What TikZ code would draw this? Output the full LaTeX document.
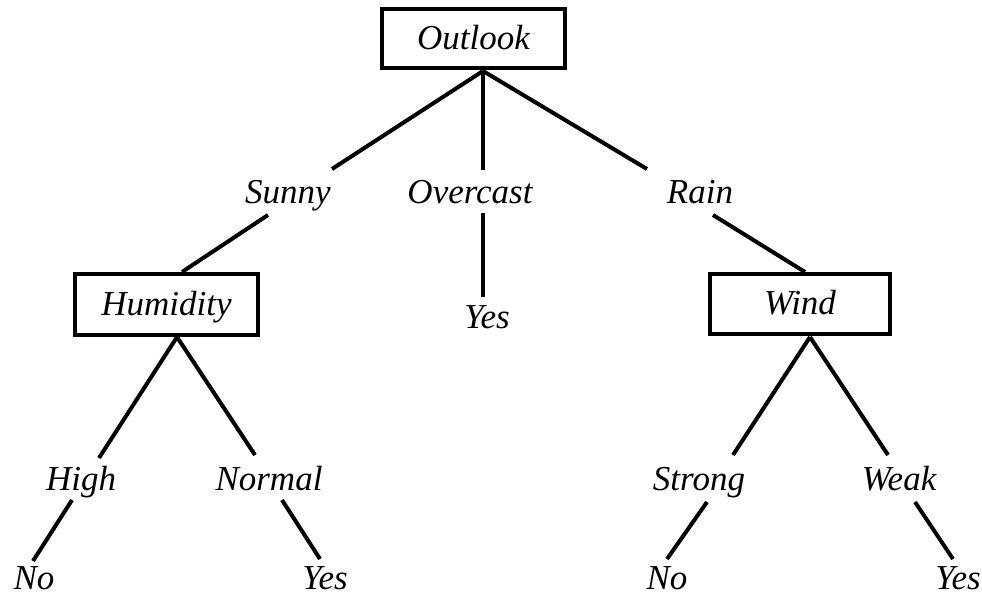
\documentclass[tikz,border=0pt]{standalone}
\usepackage{fontspec}
\setmainfont{Liberation Serif}
\begin{document}
\begin{tikzpicture}[x=1pt,y=-1pt,
  every node/.style={font=\fontsize{35}{40}\selectfont\itshape, inner sep=0pt},
  testbox/.style={draw, line width=4.5pt, text height=25pt, text depth=4pt},
  leaf/.style={anchor=base},
  edge/.style={line width=4pt}]
\useasboundingbox (0,0) rectangle (982,597);

% decision nodes
\node[testbox, minimum width=183pt, minimum height=59pt] (outlook) at (473.5,38.5) {Outlook};
\node[testbox, minimum width=183pt, minimum height=61pt] (humidity) at (166.5,304.5) {Humidity};
\node[testbox, minimum width=180pt, minimum height=60pt] (wind) at (800,304) {Wind};

% branch values
\node[leaf] (sunny) at (288,203) {Sunny};
\node[leaf] (overcast) at (470,203) {Overcast};
\node[leaf] (rain) at (700,203) {Rain};
\node[leaf] (high) at (81,490) {High};
\node[leaf] (normal) at (269,490) {Normal};
\node[leaf] (strong) at (699,490) {Strong};
\node[leaf] (weak) at (899,490) {Weak};

% class labels
\node[leaf] (yes1) at (487,328) {Yes};
\node[leaf] (no1) at (34,589) {No};
\node[leaf] (yes2) at (325,589) {Yes};
\node[leaf] (no2) at (667,589) {No};
\node[leaf] (yes3) at (958,589) {Yes};

% connector ends
\coordinate (outlook-out) at (483,71);
\coordinate (humidity-out) at (177,337);
\coordinate (wind-out) at (810,337);
\coordinate (humidity-in) at (182,272);
\coordinate (wind-in) at (805,272);
\coordinate (sunny-in) at (332,169);
\coordinate (overcast-in) at (483,170);
\coordinate (rain-in) at (647,169);
\coordinate (sunny-out) at (268,215);
\coordinate (overcast-out) at (483,213);
\coordinate (rain-out) at (713,215);
\coordinate (yes1-in) at (483,297);
\coordinate (high-in) at (99,458);
\coordinate (normal-in) at (255,455);
\coordinate (strong-in) at (733,455);
\coordinate (weak-in) at (888,455);
\coordinate (high-out) at (72,500);
\coordinate (normal-out) at (282,500);
\coordinate (strong-out) at (707,502);
\coordinate (weak-out) at (915,502);
\coordinate (no1-in) at (33,561);
\coordinate (yes2-in) at (320,559);
\coordinate (no2-in) at (667,559);
\coordinate (yes3-in) at (953,559);

% tree edges
\draw[edge] (outlook-out) -- (sunny-in);
\draw[edge] (outlook-out) -- (overcast-in);
\draw[edge] (outlook-out) -- (rain-in);
\draw[edge] (sunny-out) -- (humidity-in);
\draw[edge] (overcast-out) -- (yes1-in);
\draw[edge] (rain-out) -- (wind-in);
\draw[edge] (humidity-out) -- (high-in);
\draw[edge] (humidity-out) -- (normal-in);
\draw[edge] (wind-out) -- (strong-in);
\draw[edge] (wind-out) -- (weak-in);
\draw[edge] (high-out) -- (no1-in);
\draw[edge] (normal-out) -- (yes2-in);
\draw[edge] (strong-out) -- (no2-in);
\draw[edge] (weak-out) -- (yes3-in);
\end{tikzpicture}
\end{document}
